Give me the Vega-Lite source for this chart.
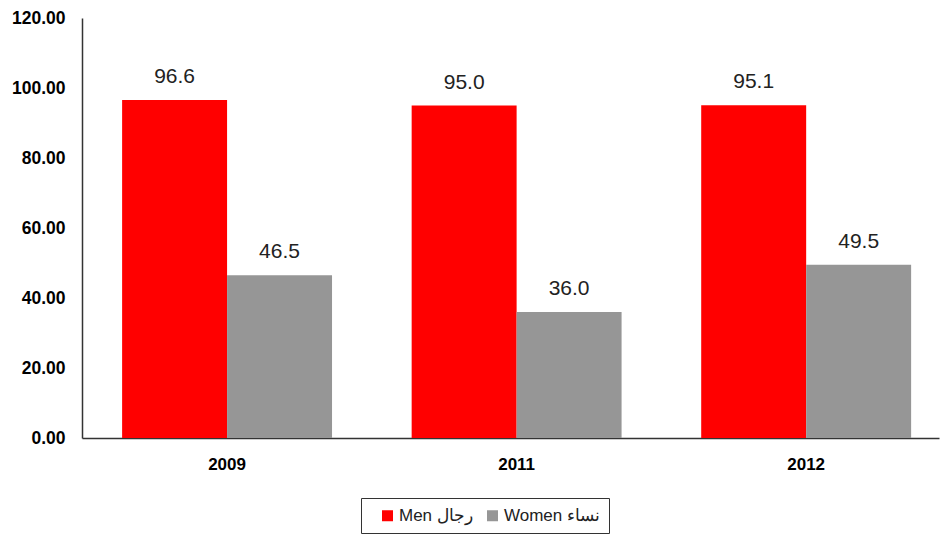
{
  "$schema": "https://vega.github.io/schema/vega-lite/v6.json",
  "width": 857,
  "height": 420,
  "autosize": {"type": "none"},
  "padding": {"left": 82, "top": 18, "right": 2, "bottom": 99},
  "background": "white",
  "config": {"view": {"stroke": null}, "font": "Liberation Sans"},
  "data": {
    "values": [
      {"year": "2009", "sex": "Men رجال", "value": 96.6},
      {"year": "2009", "sex": "Women نساء", "value": 46.5},
      {"year": "2011", "sex": "Men رجال", "value": 95.0},
      {"year": "2011", "sex": "Women نساء", "value": 36.0},
      {"year": "2012", "sex": "Men رجال", "value": 95.1},
      {"year": "2012", "sex": "Women نساء", "value": 49.5}
    ]
  },
  "encoding": {
    "x": {
      "field": "year", "type": "nominal",
      "scale": {"paddingInner": 0.275, "paddingOuter": 0.1174, "align": 0.59},
      "axis": {"title": null, "labelAngle": 0, "labelFont": "Liberation Sans", "labelFontSize": 17, "labelFontWeight": "bold", "labelColor": "black", "labelPadding": 18, "ticks": false, "domainColor": "#333", "domainWidth": 1.5}
    },
    "xOffset": {"field": "sex", "type": "nominal", "scale": {"paddingInner": 0, "paddingOuter": 0}},
    "y": {
      "field": "value", "type": "quantitative",
      "scale": {"domain": [0, 120], "nice": false},
      "axis": {"title": null, "values": [0, 20, 40, 60, 80, 100, 120], "format": ".2f", "grid": false, "ticks": false, "labelFont": "Liberation Sans", "labelFontSize": 17.5, "labelFontWeight": "bold", "labelColor": "black", "labelPadding": 17, "domainColor": "#333", "domainWidth": 1.5}
    }
  },
  "layer": [
    {
      "mark": {"type": "bar"},
      "encoding": {
        "color": {
          "field": "sex", "type": "nominal",
          "scale": {"domain": ["Men رجال", "Women نساء"], "range": ["#ff0000", "#969696"]},
          "legend": {
            "title": null, "orient": "none", "direction": "horizontal",
            "legendX": 279, "legendY": 480,
            "strokeColor": "#333", "padding": 9,
            "symbolType": "square", "symbolSize": 121, "symbolStrokeWidth": 0,
            "labelFont": "Liberation Sans", "labelFontSize": 17, "labelColor": "#222",
            "columnPadding": 2, "labelOffset": 3, "symbolOffset": 9
          }
        }
      }
    },
    {
      "mark": {"type": "text", "baseline": "alphabetic", "dy": -17, "fontSize": 21, "font": "Liberation Sans", "color": "#222"},
      "encoding": {
        "text": {"field": "value", "type": "quantitative", "format": ".1f"}
      }
    }
  ]
}
